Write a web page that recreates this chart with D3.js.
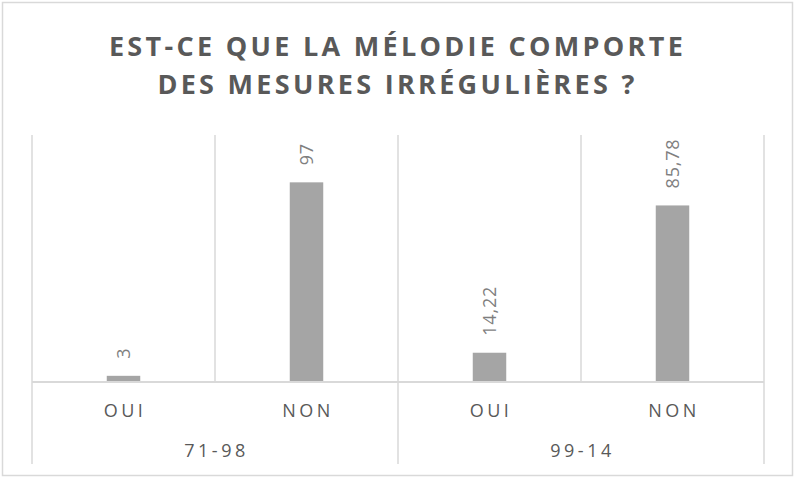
<!DOCTYPE html>
<html>
<head>
<meta charset="utf-8">
<script src="https://cdn.jsdelivr.net/npm/d3@7"></script>
<style>
  body { margin: 0; background: #fff; }
  text { font-family: "Open Sans", "Liberation Sans", sans-serif; }
</style>
</head>
<body>
<svg id="chart"></svg>
<script>
// Chart values.
const titleLines = ['EST-CE QUE LA MÉLODIE COMPORTE', 'DES MESURES IRRÉGULIÈRES ?'];
const groups = ['71-98', '99-14'];
const answers = ['OUI', 'NON'];
const values7198 = [3, 97];
const values9914 = [14.22, 85.78];
const valuesByGroup = [values7198, values9914];

const WIDTH = 795;
const HEIGHT = 478;
const PLOT = {left: 32, right: 764, top: 135, bottom: 382};
const AXIS_BOTTOM = 464;

const GRID = '#d9d9d9';
const BAR = '#a5a5a5';
const TEXT = '#595959';
const LABEL = '#7f7f7f';

const svg = d3.select('#chart')
  .attr('width', WIDTH)
  .attr('height', HEIGHT)
  .attr('viewBox', `0 0 ${WIDTH} ${HEIGHT}`);

// outer frame
svg.append('rect')
  .attr('x', 2.5).attr('y', 2.5)
  .attr('width', WIDTH - 5).attr('height', HEIGHT - 5)
  .attr('fill', '#fff')
  .attr('stroke', GRID)
  .attr('stroke-width', 1.5);

// title
svg.append('text')
  .attr('x', WIDTH / 2)
  .attr('text-anchor', 'middle')
  .attr('fill', TEXT)
  .style('font-size', '27px')
  .style('font-weight', 'bold')
  .style('letter-spacing', '3.3px')
  .selectAll('tspan')
  .data(titleLines)
  .join('tspan')
  .attr('x', WIDTH / 2)
  .attr('y', (d, i) => 56 + i * 38)
  .text(d => d);

// flatten the data for the bars
const rows = [];
groups.forEach((g, gi) => {
  answers.forEach((a, ai) => {
    rows.push({group: g, answer: a, value: valuesByGroup[gi][ai]});
  });
});

const x0 = d3.scaleBand()
  .domain(groups)
  .range([PLOT.left, PLOT.right]);

const x1 = d3.scaleBand()
  .domain(answers)
  .range([0, x0.bandwidth()])
  .paddingInner(0.817)
  .paddingOuter(0.4085);

const y = d3.scaleLinear()
  .domain([0, 120])
  .range([PLOT.bottom, PLOT.top]);

// vertical gridlines at every category boundary
const step = x1.step();
const bounds = [];
groups.forEach(g => {
  for (let i = 0; i < answers.length; i++) bounds.push(x0(g) + i * step);
});
bounds.push(PLOT.right);

svg.append('g')
  .selectAll('line')
  .data(bounds)
  .join('line')
  .attr('x1', d => d).attr('x2', d => d)
  .attr('y1', PLOT.top).attr('y2', PLOT.bottom)
  .attr('stroke', GRID)
  .attr('stroke-width', 1.5);

// group separators below the axis (multi-level labels)
const groupBounds = groups.map(g => x0(g)).concat([PLOT.right]);
svg.append('g')
  .selectAll('line')
  .data(groupBounds)
  .join('line')
  .attr('x1', d => d).attr('x2', d => d)
  .attr('y1', PLOT.bottom).attr('y2', AXIS_BOTTOM)
  .attr('stroke', GRID)
  .attr('stroke-width', 1.5);

// bars
svg.append('g')
  .selectAll('rect')
  .data(rows)
  .join('rect')
  .attr('x', d => x0(d.group) + x1(d.answer))
  .attr('y', d => y(d.value))
  .attr('width', x1.bandwidth())
  .attr('height', d => y(0) - y(d.value))
  .attr('fill', BAR);

// axis line
svg.append('line')
  .attr('x1', PLOT.left).attr('x2', PLOT.right)
  .attr('y1', PLOT.bottom).attr('y2', PLOT.bottom)
  .attr('stroke', GRID)
  .attr('stroke-width', 2);

// data labels, rotated, french decimal comma
const fmt = v => String(v).replace('.', ',');
svg.append('g')
  .selectAll('text')
  .data(rows)
  .join('text')
  .attr('transform', d => {
    const cx = x0(d.group) + x1(d.answer) + x1.bandwidth() / 2;
    return `translate(${cx},${y(d.value) - 17}) rotate(-90)`;
  })
  .attr('dy', '0.36em')
  .attr('fill', LABEL)
  .style('font-size', '18px')
  .style('letter-spacing', '0.8px')
  .text(d => fmt(d.value));

// answer labels
svg.append('g')
  .selectAll('text')
  .data(rows)
  .join('text')
  .attr('x', d => x0(d.group) + x1(d.answer) + x1.bandwidth() / 2 + 1.5)
  .attr('y', 417)
  .attr('text-anchor', 'middle')
  .attr('fill', TEXT)
  .style('font-size', '18px')
  .style('letter-spacing', '3.5px')
  .text(d => d.answer);

// group labels
svg.append('g')
  .selectAll('text')
  .data(groups)
  .join('text')
  .attr('x', d => x0(d) + x0.bandwidth() / 2 + 1.5)
  .attr('y', 457)
  .attr('text-anchor', 'middle')
  .attr('fill', TEXT)
  .style('font-size', '18px')
  .style('letter-spacing', '3.5px')
  .text(d => d);
</script>
</body>
</html>
